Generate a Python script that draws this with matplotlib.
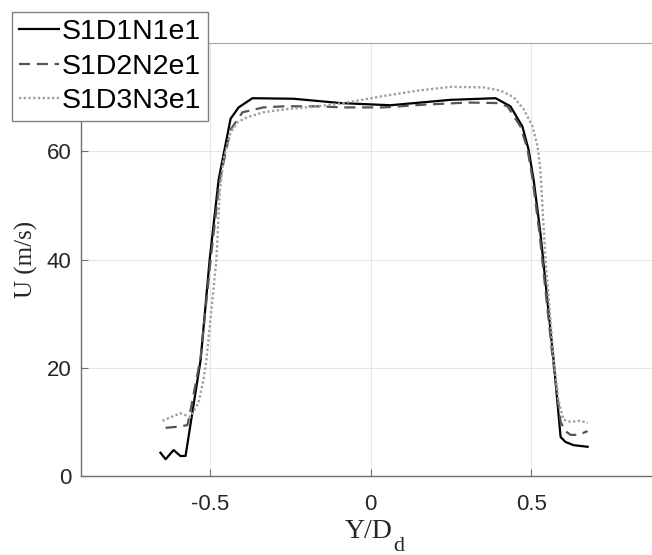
import matplotlib
matplotlib.use('Agg')
import matplotlib.pyplot as pyplot


# Data

y1 = [-0.653, -0.637, -0.612, -0.591, -0.575, -0.528, -0.500, -0.472, -0.435, -0.410,
      -0.367, -0.239, -0.093, 0.062, 0.249, 0.389, 0.435, 0.472, 0.491, 0.507,
      0.528, 0.569, 0.591, 0.606, 0.631, 0.675]
u1 = [4.3, 3.1, 4.8, 3.7, 3.7, 21.5, 40.0, 54.8, 66.0, 68.1,
      69.8, 69.7, 68.9, 68.5, 69.5, 69.8, 68.3, 64.6, 60.4, 54.8,
      45.0, 21.5, 7.2, 6.3, 5.7, 5.4]

y2 = [-0.637, -0.600, -0.569, -0.553, -0.528, -0.497, -0.469, -0.435, -0.398, -0.333,
      -0.270, -0.165, -0.084, 0.040, 0.165, 0.302, 0.395, 0.426, 0.466, 0.488,
      0.504, 0.525, 0.566, 0.591, 0.606, 0.622, 0.647, 0.675]
u2 = [8.9, 9.1, 9.4, 14.1, 22.0, 40.0, 54.5, 64.0, 67.2, 68.1,
      68.3, 68.3, 68.1, 68.1, 68.6, 69.0, 68.9, 68.3, 64.6, 60.4,
      54.8, 45.0, 22.0, 10.0, 8.3, 7.6, 7.6, 8.3]

y3 = [-0.647, -0.591, -0.560, -0.535, -0.519, -0.510, -0.479, -0.469, -0.457, -0.435,
      -0.413, -0.382, -0.333, -0.258, -0.165, -0.084, 0.040, 0.146, 0.249, 0.351,
      0.404, 0.445, 0.476, 0.503, 0.519, 0.528, 0.544, 0.569, 0.584, 0.600,
      0.622, 0.653, 0.675]
u3 = [10.2, 11.6, 10.9, 13.5, 17.8, 21.5, 40.0, 52.4, 58.5, 63.5,
      65.4, 66.3, 67.2, 67.8, 68.3, 68.9, 70.2, 71.2, 71.9, 71.8,
      71.2, 70.0, 67.8, 64.7, 61.0, 56.7, 40.0, 22.0, 14.0, 10.4,
      10.0, 10.2, 9.8]

labels = ['S1D1N1e1', 'S1D2N2e1', 'S1D3N3e1']


# Plot

pyplot.rcParams['font.family'] = 'Liberation Sans'

fig = pyplot.figure(figsize=(6.52, 5.55), dpi=100)
ax = fig.add_axes([81 / 652, 79 / 555, 579 / 652, 433 / 555])

p1 = ax.plot(y1, u1, color='black', lw=1.6)
p2 = ax.plot(y2, u2, color='#555555', lw=1.6, linestyle=(0, (5, 3)))
p3 = ax.plot(y3, u3, color='#a0a0a0', lw=1.7, linestyle=(0, (1, 1)))

ax.set_xlim(-0.9, 0.9)
ax.set_ylim(0, 80)
ax.set_xticks([-0.5, 0, 0.5])
ax.set_xticklabels(['-0.5', '0', '0.5'])
ax.set_yticks([0, 20, 40, 60])
ax.grid(True, color='#e6e6e6', lw=0.8)
ax.set_axisbelow(True)

ax.tick_params(direction='in', length=5, width=0.8, colors='#707070',
               labelcolor='#262626', labelsize=16)
ax.tick_params(axis='x', pad=13)
ax.tick_params(axis='y', pad=7)

for side in ['left', 'bottom']:
    ax.spines[side].set_color('#707070')
    ax.spines[side].set_linewidth(1.0)
ax.spines['top'].set_color('#a8a8a8')
ax.spines['right'].set_visible(False)

fig.text(26 / 652, 1 - 259 / 555, 'U (m/s)', rotation=90, ha='center', va='center',
         fontsize=18, family='Liberation Serif', color='#262626')
fig.text(393 / 652, (555 - 538) / 555, 'Y/D', ha='right', va='baseline',
         fontsize=20, family='Liberation Serif', color='#262626')
fig.text(393 / 652, (555 - 551) / 555, 'd', ha='left', va='baseline',
         fontsize=16, family='Liberation Serif', color='#262626')

leg = fig.legend(p1 + p2 + p3, labels, loc='upper left',
                 bbox_to_anchor=(12 / 652, 1 - 12 / 555), fontsize=20.5,
                 handlelength=1.4, handletextpad=0.1, labelspacing=0.3,
                 borderpad=0.25, borderaxespad=0, fancybox=False, framealpha=1)
leg.get_frame().set_edgecolor('#808080')
leg.get_frame().set_linewidth(1.0)

pyplot.savefig('out.png', dpi=100)
